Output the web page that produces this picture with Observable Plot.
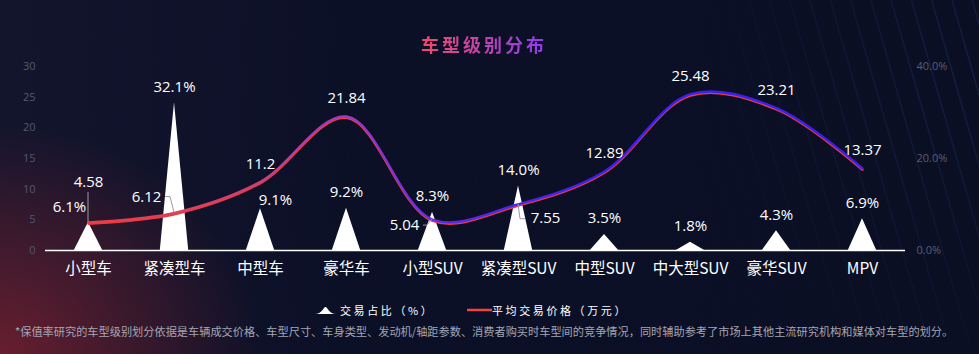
<!DOCTYPE html>
<html><head><meta charset="utf-8">
<script src="https://cdn.jsdelivr.net/npm/d3@7"></script>
<script src="https://cdn.jsdelivr.net/npm/@observablehq/plot@0.6"></script>
<style>
html,body{margin:0;padding:0;}
body{width:979px;height:354px;overflow:hidden;background:#0b0f24;font-family:"Noto Sans CJK SC","Noto Sans",sans-serif;}
#wrap{position:relative;width:979px;height:354px;overflow:hidden;
 background:
  radial-gradient(ellipse 260px 230px at 0% 100%, rgba(118,32,46,0.85), rgba(118,32,46,0) 100%),
  linear-gradient(90deg,#13152d 0%, #0c1027 35%, #0a0f24 100%);}
#stripes{position:absolute;left:0;top:0;width:979px;height:354px;
 background:repeating-linear-gradient(74deg, rgba(40,60,140,0) 0px, rgba(40,60,140,0) 17px, rgba(50,72,160,0.4) 18px, rgba(40,60,140,0) 19.5px);
 -webkit-mask-image:radial-gradient(ellipse 260px 300px at 100% 20%, rgba(0,0,0,0.8), rgba(0,0,0,0.08) 100%);
 mask-image:radial-gradient(ellipse 260px 300px at 100% 20%, rgba(0,0,0,0.8), rgba(0,0,0,0.08) 100%);}
#title{position:absolute;top:31px;left:0;width:968px;text-align:center;font-size:18px;font-weight:bold;letter-spacing:3px;line-height:26px;}
#title span{background:linear-gradient(90deg,#f24a6a,#8a3cf2);-webkit-background-clip:text;background-clip:text;color:transparent;}
#chart{position:absolute;top:55px;left:0;}
#legend{position:absolute;top:300px;left:0;width:979px;height:20px;font-size:11px;color:#fff;letter-spacing:2.6px;}
#legend .item{position:absolute;top:0;display:flex;align-items:center;height:20px;white-space:nowrap;}
#caption{position:absolute;top:323px;left:15px;font-size:11.2px;color:#a3a6b4;white-space:nowrap;}
</style></head>
<body><div id="wrap"><div id="stripes"></div>
<div id="title"><span>车型级别分布</span></div>
<div id="chart"></div>
<div id="legend">
 <div class="item" style="left:315px"><svg width="21" height="10" style="margin-right:4px"><path d="M0,9 L21,9 C14,9 12.5,2 10.5,2 C8.5,2 7,9 0,9Z" fill="#fff"/></svg><span>交易占比（%）</span></div>
 <div class="item" style="left:467px"><svg width="25" height="10"><line x1="0" y1="5" x2="25" y2="5" stroke="#f0443c" stroke-width="2.5"/></svg><span>平均交易价格（万元）</span></div>
</div>
<div id="caption">*保值率研究的车型级别划分依据是车辆成交价格、车型尺寸、车身类型、发动机/轴距参数、消费者购买时车型间的竞争情况，同时辅助参考了市场上其他主流研究机构和媒体对车型的划分。</div>
</div>
<script>
// ---- data ----
const categories = ["小型车","紧凑型车","中型车","豪华车","小型SUV","紧凑型SUV","中型SUV","中大型SUV","豪华SUV","MPV"];
const sharePct = [6.1, 32.1, 9.1, 9.2, 8.3, 14.0, 3.5, 1.8, 4.3, 6.9];
const avgPrice = [4.58, 6.12, 11.2, 21.84, 5.04, 7.55, 12.89, 25.48, 23.21, 13.37];
const leftTicks = [0, 5, 10, 15, 20, 25, 30];
const rightTicks = [0, 20, 40];

// ---- layout (label nudges in px, leader lines in px) ----
const pctMax = 40, priceMax = 30;
const pctLabelNudge = {"小型车": [-19, -15], "中型车": [15, -8]};
const priceLabelNudge = {"小型车": [0, -40], "紧凑型车": [-28, -16], "小型SUV": [-28, 6], "紧凑型SUV": [27, 14]};
const leaders = {"小型车": [[0,0],[0,-30]], "紧凑型车": [[0,0],[-4,-16],[-9,-16]], "小型SUV": [[0,0],[-5,6],[-9,6]], "紧凑型SUV": [[0,0],[2,15],[7,15]]};
const halfW = 0.165;

const rows = categories.map((c, i) => ({c, i, x: i + 0.5, pct: sharePct[i], pctY: sharePct[i] * priceMax / pctMax, price: avgPrice[i]}));
const tri = rows.flatMap(d => [
  {c: d.c, x: d.x - halfW, y: 0},
  {c: d.c, x: d.x, y: d.pctY},
  {c: d.c, x: d.x + halfW, y: 0}
]);

const font = '"Open Sans","Noto Sans CJK SC","Noto Sans",sans-serif';
const textOpts = {fill: "#fff", fontSize: 15, fontFamily: font};
const labelMarks = [];
labelMarks.push(Plot.text(rows.filter(d => !(d.c in pctLabelNudge)), {x: "x", y: "pctY", text: d => d.pct.toFixed(1) + "%", dy: -16, ...textOpts}));
for (const [c, [dx, dy]] of Object.entries(pctLabelNudge))
  labelMarks.push(Plot.text(rows.filter(d => d.c === c), {x: "x", y: "pctY", text: d => d.pct.toFixed(1) + "%", dx, dy, ...textOpts}));
labelMarks.push(Plot.text(rows.filter(d => !(d.c in priceLabelNudge)), {x: "x", y: "price", text: d => String(d.price), dy: -18, ...textOpts}));
for (const [c, [dx, dy]] of Object.entries(priceLabelNudge))
  labelMarks.push(Plot.text(rows.filter(d => d.c === c), {x: "x", y: "price", text: d => String(d.price), dx, dy, ...textOpts}));

const plot = Plot.plot({
  width: 979, height: 235,
  marginLeft: 45, marginRight: 74, marginTop: 11, marginBottom: 40,
  style: {background: "transparent", fontFamily: font, overflow: "visible"},
  x: {type: "linear", domain: [0, categories.length], axis: null},
  y: {domain: [0, priceMax], axis: null},
  marks: [
    Plot.axisY({ticks: leftTicks, tickSize: 0, tickPadding: 10, fill: "#54586e", fontSize: 11, label: null, fontFamily: font}),
    Plot.axisY({anchor: "right", ticks: rightTicks.map(v => v * priceMax / pctMax), tickFormat: v => (v * pctMax / priceMax).toFixed(1) + "%", tickSize: 0, tickPadding: 11, fill: "#5a5e72", fontSize: 11, label: null, fontFamily: font}),
    Plot.axisX({ticks: rows.map(d => d.x), tickFormat: v => categories[Math.round(v - 0.5)], tickSize: 0, tickPadding: 12, fill: "#fff", fontSize: 15.5, label: null, fontFamily: '"Noto Sans CJK SC","Noto Sans",sans-serif'}),
    Plot.areaY(tri, {x: "x", y: "y", z: "c", fill: "#fff"}),
    Plot.ruleY([0], {stroke: "#fff", strokeWidth: 1.5}),
    Plot.line(rows, {x: "x", y: "price", curve: "catmull-rom", stroke: "#ec3a3c", strokeWidth: 2.4, dy: 1.3}),
    Plot.line(rows, {x: "x", y: "price", curve: "catmull-rom", stroke: "url(#priceGrad)", strokeWidth: 2.4}),
    ...labelMarks
  ]
});
document.getElementById("chart").appendChild(plot);

const sx = plot.scale("x"), sy = plot.scale("y");
const svg = d3.select(plot);
const defs = svg.insert("defs", ":first-child");
const g = defs.append("linearGradient").attr("id", "priceGrad").attr("gradientUnits", "userSpaceOnUse")
  .attr("x1", sx.apply(0.5)).attr("x2", sx.apply(6.5)).attr("y1", 0).attr("y2", 0);
[[0, "#ee3d46"], [0.3, "#cf4070"], [0.5, "#9a38c8"], [0.7, "#5a28ea"], [1, "#3c1ff4"]].forEach(([o, c]) =>
  g.append("stop").attr("offset", o).attr("stop-color", c));

const lg = svg.append("g").attr("fill", "none").attr("stroke", "#9a9aa6").attr("stroke-width", 1);
for (const [c, pts] of Object.entries(leaders)) {
  const d = rows.find(r => r.c === c);
  const px = sx.apply(d.x), py = sy.apply(d.price);
  lg.append("path").attr("d", d3.line()(pts.map(([a, b]) => [px + a, py + b])));
}
</script>
</body></html>
